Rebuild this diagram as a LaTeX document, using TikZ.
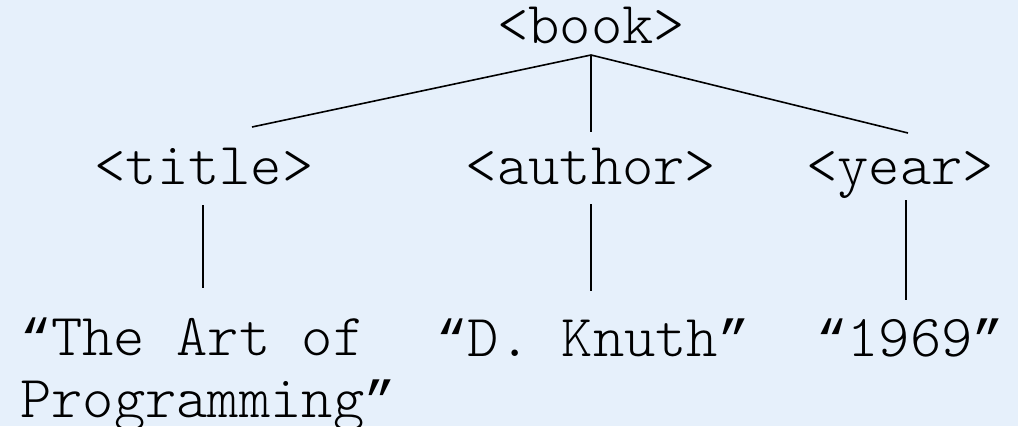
\documentclass[tikz,border=0pt]{standalone}
\usepackage{fontspec}
\setmonofont{Latin Modern Mono Light}
\newfontfamily\qfont{Liberation Mono}
\newcommand{\myopenq}{{\qfont\fontsize{52}{62}\selectfont “}}
\newcommand{\mycloseq}{{\qfont\fontsize{52}{62}\selectfont ”}}
\definecolor{bg}{HTML}{E6F0FB}
\begin{document}
\begin{tikzpicture}[x=1pt,y=-1pt,
  lbl/.style={font=\ttfamily\fontsize{59.6}{62}\selectfont, inner sep=0pt, text=black},
  edge/.style={draw=black, line width=1.6pt}]
\fill[bg] (0,0) rectangle (1018,426);
\useasboundingbox (0,0) rectangle (1018,426);
\node[lbl, anchor=base] (book) at (591,43) {<book>};
\node[lbl, anchor=base] (title) at (204,184) {<title>};
\node[lbl, anchor=base] (author) at (591,184) {<author>};
\node[lbl, anchor=base] (year) at (900,184) {<year>};
\node[lbl, anchor=base west, align=left] (tv) at (20,417) {\myopenq The Art of\\Programming\mycloseq};
\node[lbl, anchor=base] (av) at (593,356) {\myopenq D. Knuth\mycloseq};
\node[lbl, anchor=base] (yv) at (910,356) {\myopenq 1969\mycloseq};
\coordinate (top) at (591,55);
\coordinate (t1) at (252,127);
\coordinate (a1) at (591,132);
\coordinate (y1) at (908,133);
\coordinate (t2) at (203,205);
\coordinate (t3) at (203,288);
\coordinate (a2) at (591,204);
\coordinate (a3) at (591,291);
\coordinate (y2) at (906,200);
\coordinate (y3) at (906,300);
\draw[edge] (top) -- (t1);
\draw[edge] (top) -- (a1);
\draw[edge] (top) -- (y1);
\draw[edge] (t2) -- (t3);
\draw[edge] (a2) -- (a3);
\draw[edge] (y2) -- (y3);
\end{tikzpicture}
\end{document}
